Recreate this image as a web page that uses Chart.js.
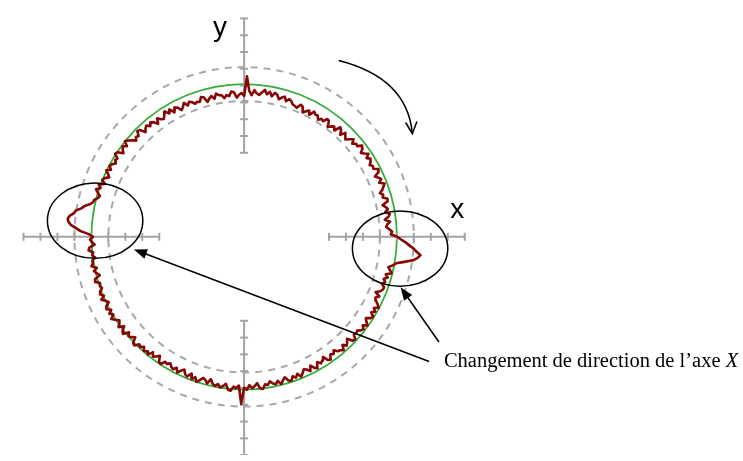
<!DOCTYPE html>
<html>
<head>
<meta charset="utf-8">
<script src="https://cdn.jsdelivr.net/npm/chart.js@4.4.1/dist/chart.umd.min.js"></script>
<style>
  html, body { margin: 0; padding: 0; background: #fff; }
  #wrap { width: 743px; height: 461px; }
</style>
</head>
<body>
<div id="wrap"><canvas id="circularityChart" width="743" height="461"></canvas></div>
<script>
// rayon nominal et bande de tolérance, en divisions d'axe
const nominalRadius = 9;
const toleranceRadii = [8, 10];
// graduations portées par chaque demi-axe (distance au centre)
const axisTicks = [5, 6, 7, 8, 9, 10, 11, 12, 13];
// écart radial mesuré, un relevé par degré (0° = +X, sens trigonométrique)
const radialDeviation = [
  0.02, -0.36, -0.27, -0.43, -0.61, -0.53, -0.35, -0.65, -0.41, -0.31,
  -0.55, -0.37, -0.47, -0.63, -0.31, -0.25, -0.51, -0.43, -0.59, -0.39,
  -0.26, -0.14, -0.42, -0.22, -0.34, -0.50, -0.18, -0.12, -0.38, -0.32,
  -0.46, -0.30, -0.22, -0.40, -0.16, -0.36, -0.50, -0.26, -0.18, -0.42,
  -0.38, -0.56, -0.32, -0.48, -0.66, -0.58, -0.40, -0.70, -0.46, -0.36,
  -0.74, -0.56, -0.66, -0.82, -0.50, -0.44, -0.70, -0.62, -0.78, -0.58,
  -0.60, -0.48, -0.76, -0.56, -0.68, -0.84, -0.52, -0.46, -0.72, -0.66,
  -0.62, -0.46, -0.38, -0.56, -0.32, -0.42, -0.56, -0.32, -0.24, -0.48,
  -0.23, -0.41, -0.17, -0.33, -0.51, -0.43, -0.25, -0.55, -0.31, 0.55,
  -0.62, -0.44, -0.54, -0.70, -0.38, -0.32, -0.58, -0.50, -0.66, -0.46,
  -0.44, -0.32, -0.60, -0.40, -0.52, -0.68, -0.36, -0.30, -0.56, -0.50,
  -0.57, -0.41, -0.33, -0.51, -0.27, -0.47, -0.61, -0.37, -0.29, -0.53,
  -0.26, -0.44, -0.20, -0.36, -0.54, -0.46, -0.28, -0.58, -0.34, -0.24,
  -0.40, -0.22, -0.32, -0.48, -0.16, -0.10, -0.36, -0.28, -0.44, -0.24,
  -0.08, 0.04, -0.24, -0.04, -0.16, -0.32, 0.00, 0.06, -0.20, -0.14,
  -0.26, -0.10, -0.02, -0.20, 0.04, -0.16, -0.30, -0.06, 0.02, -0.22,
  0.12, -0.06, 0.18, 0.02, -0.16, -0.08, 0.10, 0.14, 0.30, 0.58,
  0.74, 1.04, 1.12, 1.34, 1.45, 1.40, 1.24, 0.92, 0.64, 0.15,
  -0.10, 0.08, -0.02, -0.18, 0.14, 0.20, -0.06, 0.02, -0.14, 0.06,
  0.04, 0.16, -0.12, 0.08, -0.04, -0.20, 0.12, 0.18, -0.08, -0.02,
  -0.09, 0.07, 0.15, -0.03, 0.21, 0.01, -0.13, 0.11, 0.19, -0.05,
  0.17, -0.01, 0.23, 0.07, -0.11, -0.03, 0.15, -0.15, 0.09, 0.19,
  -0.15, 0.03, -0.07, -0.23, 0.09, 0.15, -0.11, -0.03, -0.19, 0.01,
  -0.11, 0.01, -0.27, -0.07, -0.19, -0.35, -0.03, 0.03, -0.23, -0.17,
  -0.31, -0.15, -0.07, -0.25, -0.01, -0.21, -0.35, -0.11, -0.03, -0.27,
  0.02, -0.16, 0.08, -0.08, -0.26, -0.18, 0.00, -0.30, -0.06, 0.04,
  -0.10, 0.08, -0.02, -0.18, 0.14, 0.20, -0.06, 0.02, -0.14, 0.95,
  -0.01, 0.11, -0.17, 0.03, -0.09, -0.25, 0.07, 0.13, -0.13, -0.07,
  -0.26, -0.10, -0.02, -0.20, 0.04, -0.16, -0.30, -0.06, 0.02, -0.22,
  -0.08, -0.26, -0.02, -0.18, -0.36, -0.28, -0.10, -0.40, -0.16, -0.06,
  -0.39, -0.21, -0.31, -0.47, -0.15, -0.09, -0.35, -0.27, -0.43, -0.23,
  -0.18, -0.06, -0.34, -0.14, -0.26, -0.42, -0.10, -0.04, -0.30, -0.24,
  -0.31, -0.15, -0.07, -0.25, -0.01, -0.21, -0.35, -0.11, -0.03, -0.27,
  -0.08, -0.26, -0.02, -0.18, -0.36, -0.46, -0.28, -0.58, -0.34, -0.24,
  -0.22, -0.42, -0.26, -0.40, -0.20, -0.36, -0.04, -0.18, -0.32, -0.08,
  0.10, 0.55, 1.05, 1.30, 1.45, 1.20, 1.00, 0.75, 0.52, 0.25
];
const axisLabels = ['x', 'y'];
const captionText = 'Changement de direction de l’axe ';
const captionAxis = 'X';

document.addEventListener("DOMContentLoaded", function () {
    const ctx = document.getElementById('circularityChart').getContext('2d');

    // trace polaire -> points x/y
    const tracePoints = radialDeviation.map((d, deg) => {
        const a = deg * Math.PI / 180;
        const r = nominalRadius + d;
        return { x: r * Math.cos(a), y: r * Math.sin(a) };
    });
    tracePoints.push(tracePoints[0]);

    const axisGray = '#a3a3a3';
    const axisSet = (pts, rot) => ({
        data: pts,
        showLine: true,
        borderColor: axisGray,
        borderWidth: 2,
        pointStyle: 'line',
        pointRadius: 4,
        pointBorderWidth: 2,
        pointBorderColor: axisGray,
        pointRotation: rot,
        order: 2,
    });

    const decor = {
        id: 'decor',
        beforeDatasetsDraw(chart) {
            const { ctx, scales: { x, y } } = chart;
            const cx = x.getPixelForValue(0), cy = y.getPixelForValue(0);
            const unit = x.getPixelForValue(1) - cx;
            ctx.save();
            ctx.strokeStyle = '#a8a8a8';
            ctx.lineWidth = 2;
            ctx.setLineDash([7, 6]);
            toleranceRadii.forEach(r => {
                ctx.beginPath();
                ctx.arc(cx, cy, r * unit, 0, 2 * Math.PI);
                ctx.stroke();
            });
            ctx.setLineDash([]);
            ctx.strokeStyle = '#35ad3a';
            ctx.lineWidth = 1.8;
            ctx.beginPath();
            ctx.arc(cx, cy, nominalRadius * unit, 0, 2 * Math.PI);
            ctx.stroke();
            ctx.restore();
        },
        afterDatasetsDraw(chart) {
            const { ctx, scales: { x, y } } = chart;
            const px = v => x.getPixelForValue(v);
            const py = v => y.getPixelForValue(v);
            const unit = px(1) - px(0);
            ctx.save();
            ctx.strokeStyle = '#000';
            ctx.fillStyle = '#000';
            ctx.lineWidth = 1.5;

            // ellipses autour des inversions
            [[-8.78, 0.96], [9.19, -0.70]].forEach(([ex, ey]) => {
                ctx.beginPath();
                ctx.ellipse(px(ex), py(ey), 2.81 * unit, 2.22 * unit, 0, 0, 2 * Math.PI);
                ctx.stroke();
            });

            const arrow = (x0, y0, x1, y1) => {
                const X0 = px(x0), Y0 = py(y0), X1 = px(x1), Y1 = py(y1);
                const a = Math.atan2(Y1 - Y0, X1 - X0);
                ctx.beginPath();
                ctx.moveTo(X0, Y0);
                ctx.lineTo(X1 - 10 * Math.cos(a), Y1 - 10 * Math.sin(a));
                ctx.stroke();
                ctx.beginPath();
                ctx.moveTo(X1, Y1);
                ctx.lineTo(X1 - 13 * Math.cos(a) + 5 * Math.sin(a), Y1 - 13 * Math.sin(a) - 5 * Math.cos(a));
                ctx.lineTo(X1 - 13 * Math.cos(a) - 5 * Math.sin(a), Y1 - 13 * Math.sin(a) + 5 * Math.cos(a));
                ctx.closePath();
                ctx.fill();
            };
            arrow(10.90, -7.42, -6.49, -0.75);
            arrow(11.48, -6.26, 9.22, -3.01);

            // sens de parcours
            const sx = px(5.57), sy = py(10.49), qx = px(9.62), qy = py(9.45), ex = px(9.91), ey = py(6.14);
            ctx.beginPath();
            ctx.moveTo(sx, sy);
            ctx.quadraticCurveTo(qx, qy, ex, ey);
            ctx.stroke();
            const a = Math.atan2(ey - qy, ex - qx);
            ctx.beginPath();
            ctx.moveTo(ex - 13 * Math.cos(a - 0.45), ey - 13 * Math.sin(a - 0.45));
            ctx.lineTo(ex, ey);
            ctx.lineTo(ex - 13 * Math.cos(a + 0.45), ey - 13 * Math.sin(a + 0.45));
            ctx.stroke();

            // noms des axes
            ctx.font = '28px "Liberation Sans", Arial, sans-serif';
            ctx.textAlign = 'center';
            ctx.textBaseline = 'alphabetic';
            ctx.fillText(axisLabels[0], px(12.55), py(1.10));
            ctx.fillText(axisLabels[1], px(-1.42), py(11.94));

            // légende
            ctx.textAlign = 'left';
            ctx.font = '20.5px "Liberation Serif", "Times New Roman", serif';
            const tx = px(11.77), ty = py(-7.77);
            ctx.fillText(captionText, tx, ty);
            const w = ctx.measureText(captionText).width;
            ctx.font = 'italic 20.5px "Liberation Serif", "Times New Roman", serif';
            ctx.fillText(captionAxis, tx + w, ty);
            ctx.restore();
        }
    };

    new Chart(ctx, {
        type: 'scatter',
        data: {
            datasets: [
                {
                    data: tracePoints,
                    showLine: true,
                    borderColor: '#870606',
                    borderWidth: 2.6,
                    borderJoinStyle: 'round',
                    pointRadius: 0,
                    tension: 0,
                    order: 1,
                },
                axisSet(axisTicks.map(t => ({ x: 0, y: t })), 0),
                axisSet(axisTicks.map(t => ({ x: 0, y: -t })), 0),
                axisSet(axisTicks.map(t => ({ x: -t, y: 0 })), 90),
                axisSet(axisTicks.map(t => ({ x: t, y: 0 })), 90),
            ],
        },
        options: {
            responsive: false,
            devicePixelRatio: 1,
            animation: false,
            layout: { padding: 0 },
            plugins: { legend: { display: false }, tooltip: { enabled: false } },
            scales: {
                x: { type: 'linear', min: -14.03, max: 29.04, display: false },
                y: { type: 'linear', min: -12.99, max: 13.74, display: false },
            },
        },
        plugins: [decor],
    });
});
</script>
</body>
</html>
